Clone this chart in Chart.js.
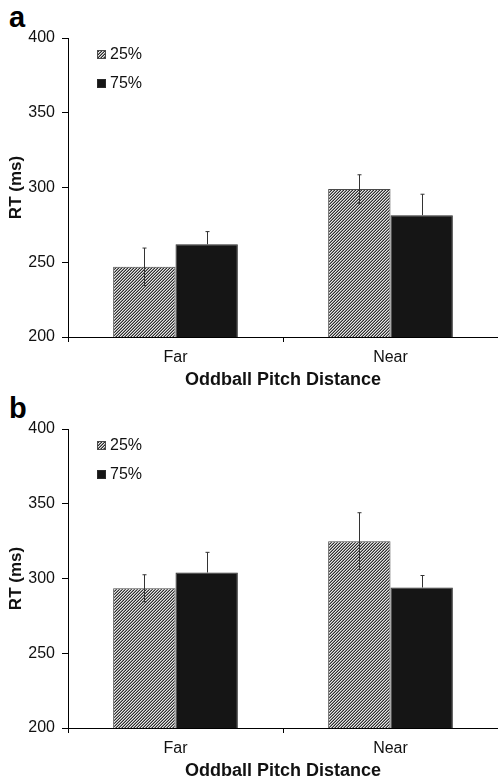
<!DOCTYPE html>
<html>
<head>
<meta charset="utf-8">
<script src="https://cdn.jsdelivr.net/npm/chart.js@4.4.1/dist/chart.umd.min.js"></script>
<style>
  html, body { margin: 0; padding: 0; background: #fff; }
  .panel { position: relative; width: 498px; height: 391px; }
  .panel canvas { position: absolute; left: 0; top: 0; }
  .letter {
    position: absolute; left: 9px; top: 3px;
    font: bold 29px "Liberation Sans", Arial, sans-serif; line-height: 1; color: #000;
  }
</style>
</head>
<body>
<div class="panel"><div class="letter">a</div><canvas id="chart-a" width="498" height="391"></canvas></div>
<div class="panel"><div class="letter">b</div><canvas id="chart-b" width="498" height="391"></canvas></div>

<script>
// ---- data ----
const categories = ['Far', 'Near'];
const seriesNames = ['25%', '75%'];

// panel a
const rtA25  = [247, 299];
const errA25 = [12.5, 9.5];
const rtA75  = [262, 281.5];
const errA75 = [8.5, 14];

// panel b
const rtB25  = [293.5, 325];
const errB25 = [9, 19];
const rtB75  = [304, 294];
const errB75 = [13.5, 8];

const FONT = '"Liberation Sans", Arial, sans-serif';

// diagonal hatch used for the 25% bars
function makeHatch() {
  const c = document.createElement('canvas');
  c.width = 3; c.height = 3;
  const g = c.getContext('2d');
  g.fillStyle = '#e6e6e6';
  g.fillRect(0, 0, 3, 3);
  g.fillStyle = '#2e2e2e';
  g.fillRect(0, 2, 1, 1);
  g.fillRect(1, 1, 1, 1);
  g.fillRect(2, 0, 1, 1);
  g.fillStyle = '#8c8c8c';
  g.fillRect(0, 1, 1, 1);
  g.fillRect(1, 0, 1, 1);
  g.fillRect(2, 2, 1, 1);
  return g.createPattern(c, 'repeat');
}

// only the part above a solid bar shows in the figure, so solid bars get the upper half only
const errorBars = {
  id: 'errorBars',
  afterDatasetsDraw(chart) {
    const ctx = chart.ctx;
    const y = chart.scales.y;
    ctx.save();
    ctx.strokeStyle = '#333';
    ctx.lineWidth = 1;
    chart.data.datasets.forEach((ds, i) => {
      chart.getDatasetMeta(i).data.forEach((bar, j) => {
        const x = Math.round(bar.x) + 0.5;
        const top = y.getPixelForValue(ds.data[j] + ds.errors[j]);
        const bot = y.getPixelForValue(ds.data[j] - ds.errors[j]);
        ctx.beginPath();
        ctx.moveTo(x - 2, top); ctx.lineTo(x + 2, top);
        ctx.moveTo(x, top);
        if (ds.solid) {
          ctx.lineTo(x, bar.y);
        } else {
          ctx.lineTo(x, bot);
          ctx.moveTo(x - 2, bot); ctx.lineTo(x + 2, bot);
        }
        ctx.stroke();
      });
    });
    ctx.restore();
  }
};

const boxLegend = {
  id: 'boxLegend',
  afterDraw(chart) {
    const ctx = chart.ctx;
    const a = chart.chartArea;
    ctx.save();
    ctx.font = '16px ' + FONT;
    ctx.textBaseline = 'middle';
    chart.data.datasets.forEach((ds, i) => {
      const bx = a.left + 29, by = a.top + 12 + i * 29;
      ctx.fillStyle = ds.backgroundColor;
      ctx.fillRect(bx, by, 9, 9);
      ctx.strokeStyle = ds.borderColor;
      ctx.strokeRect(bx + 0.5, by + 0.5, 8, 8);
      ctx.fillStyle = '#111';
      ctx.fillText(ds.label, bx + 13, by + 5);
    });
    ctx.restore();
  }
};

function drawPanel(canvasId, vals25, err25, vals75, err75) {
  const ctx = document.getElementById(canvasId).getContext('2d');
  return new Chart(ctx, {
    type: 'bar',
    data: {
      labels: categories,
      datasets: [
        { label: seriesNames[0], data: vals25, errors: err25,
          backgroundColor: makeHatch(), borderColor: '#4a4a4a', borderWidth: 1 },
        { label: seriesNames[1], data: vals75, errors: err75, solid: true,
          backgroundColor: '#151515', borderColor: '#2a2a2a', borderWidth: 1 },
      ]
    },
    options: {
      responsive: false,
      animation: false,
      devicePixelRatio: 1,
      categoryPercentage: 0.58,
      barPercentage: 1,
      layout: { padding: { top: 38, right: 0, bottom: 0, left: 0 } },
      plugins: { legend: { display: false }, tooltip: { enabled: false } },
      scales: {
        x: {
          offset: true,
          grid: { drawOnChartArea: false, drawTicks: true, tickLength: 5, color: '#000', offset: true },
          border: { display: true, color: '#000', width: 1 },
          ticks: { color: '#111', padding: 6, font: { family: FONT, size: 16 } },
          title: { display: true, text: 'Oddball Pitch Distance', color: '#111',
                   font: { family: FONT, size: 18, weight: 'bold' }, padding: 0 },
          afterFit: s => { s.height = 54; }
        },
        y: {
          min: 200, max: 400,
          grid: { drawOnChartArea: false, drawTicks: true, tickLength: 6, color: '#000' },
          border: { display: true, color: '#000', width: 1 },
          ticks: { stepSize: 50, color: '#111', padding: 7, font: { family: FONT, size: 16 } },
          title: { display: true, text: 'RT (ms)', color: '#111',
                   font: { family: FONT, size: 17, weight: 'bold' }, padding: { top: 6, bottom: 0 } },
          afterFit: s => { s.width = 68; }
        }
      }
    },
    plugins: [errorBars, boxLegend]
  });
}

drawPanel('chart-a', rtA25, errA25, rtA75, errA75);
drawPanel('chart-b', rtB25, errB25, rtB75, errB75);
</script>
</body>
</html>
